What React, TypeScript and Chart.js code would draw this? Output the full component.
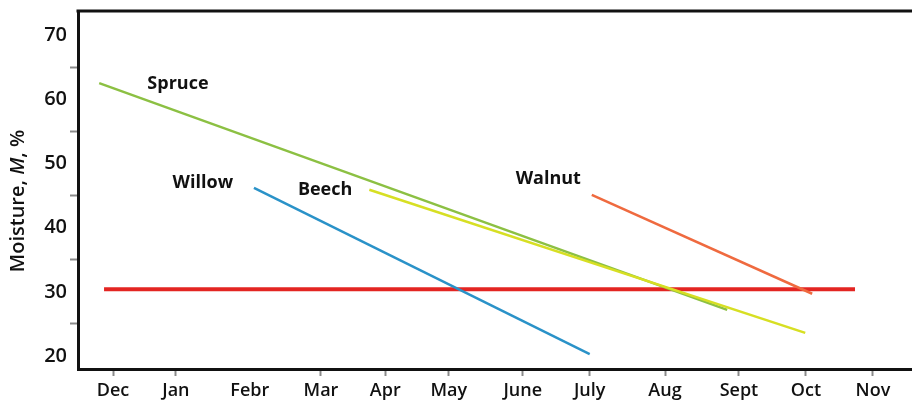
import React, { useEffect, useRef } from "react";
import { Chart, registerables } from "chart.js";

Chart.register(...registerables);

// Month tick labels and their positions (in months from Dec)
const monthLabels = ["Dec", "Jan", "Febr", "Mar", "Apr", "May", "June", "July", "Aug", "Sept", "Oct", "Nov"];
const monthPositions = [0, 0.91, 1.98, 3.01, 3.94, 4.86, 5.93, 6.9, 7.99, 9.06, 10.03, 11.0];
const yTickValues = [20, 25, 30, 35, 40, 45, 50, 55, 60, 65, 70];

// Series (x in months from Dec, y moisture %)
const spruceX = [-0.2, 8.89];
const spruceY = [62.5, 27.2];
const willowX = [2.04, 6.9];
const willowY = [46.2, 20.3];
const beechX = [3.71, 10.02];
const beechY = [45.9, 23.6];
const walnutX = [6.93, 10.12];
const walnutY = [45.1, 29.7];
const limitX = [-0.13, 10.74];
const limitY = [30.4, 30.4];

// Series name annotations (data coordinates)
const labelNames = ["Spruce", "Willow", "Beech", "Walnut"];
const labelX = [0.94, 1.3, 3.07, 6.3];
const labelY = [62.4, 46.9, 45.9, 47.6];

const FONT = "'Open Sans', 'Noto Sans', sans-serif";

const pts = (xs: number[], ys: number[]) => xs.map((x, i) => ({ x, y: ys[i] }));

const decorPlugin = {
  id: "decor",
  afterDraw(chart: any) {
    const { ctx, chartArea, scales } = chart;
    ctx.save();
    // top border
    ctx.strokeStyle = "#111";
    ctx.lineWidth = 3;
    ctx.beginPath();
    ctx.moveTo(chartArea.left - 1.5, chartArea.top);
    ctx.lineTo(chartArea.right, chartArea.top);
    ctx.stroke();

    // series labels
    ctx.fillStyle = "#111";
    ctx.font = `bold 18px ${FONT}`;
    ctx.textAlign = "center";
    ctx.textBaseline = "middle";
    labelNames.forEach((name, i) => {
      ctx.fillText(name, scales.x.getPixelForValue(labelX[i]), scales.y.getPixelForValue(labelY[i]));
    });

    // y-axis title with italic M
    const parts = [
      { t: "Moisture, ", f: `600 20px ${FONT}` },
      { t: "M", f: `italic 600 20px ${FONT}` },
      { t: ", %", f: `600 20px ${FONT}` },
    ];
    let total = 0;
    const widths = parts.map((p) => {
      ctx.font = p.f;
      const w = ctx.measureText(p.t).width;
      total += w;
      return w;
    });
    ctx.translate(18, 201);
    ctx.rotate(-Math.PI / 2);
    ctx.textAlign = "left";
    let cx = -total / 2;
    parts.forEach((p, i) => {
      ctx.font = p.f;
      ctx.fillText(p.t, cx, 0);
      cx += widths[i];
    });
    ctx.restore();
  },
};

export default function App() {
  const ref = useRef<HTMLCanvasElement>(null);

  useEffect(() => {
    if (!ref.current) return;
    Chart.defaults.font.family = FONT;
    const line = (data: any, color: string, width: number, order: number) => ({
      data,
      borderColor: color,
      backgroundColor: color,
      borderWidth: width,
      showLine: true,
      pointRadius: 0,
      fill: false,
      order,
    });
    const chart = new Chart(ref.current, {
      type: "scatter",
      data: {
        datasets: [
          line(pts(limitX, limitY), "#e32522", 4, 5),
          line(pts(spruceX, spruceY), "#8cc043", 2.5, 4),
          line(pts(beechX, beechY), "#d7df23", 2.5, 3),
          line(pts(willowX, willowY), "#2a92c8", 2.5, 2),
          line(pts(walnutX, walnutY), "#ef6a3f", 2.5, 1),
        ] as any,
      },
      options: {
        animation: false,
        responsive: true,
        maintainAspectRatio: false,
        layout: { padding: { top: 11, left: 0, right: 0, bottom: 0 } },
        plugins: { legend: { display: false }, tooltip: { enabled: false } },
        scales: {
          x: {
            type: "linear",
            min: -0.507,
            max: 11.565,
            afterBuildTicks: (scale: any) => {
              scale.ticks = monthPositions.map((v) => ({ value: v }));
            },
            afterFit: (scale: any) => {
              scale.height = 32;
              scale.paddingLeft = 0;
              scale.paddingRight = 0;
            },
            ticks: {
              autoSkip: false,
              maxRotation: 0,
              padding: 4,
              color: "#111",
              font: { size: 18, weight: "600" },
              callback: (_v: any, i: number) => monthLabels[i],
            },
            grid: {
              drawOnChartArea: false,
              drawTicks: true,
              tickLength: 7,
              tickWidth: 2,
              tickColor: (c: any) => (c.index === 2 ? "rgba(0,0,0,0)" : "#8a8a8a"),
            },
            border: { color: "#111", width: 3 },
          },
          y: {
            type: "linear",
            min: 17.98,
            max: 73.74,
            afterBuildTicks: (scale: any) => {
              scale.ticks = yTickValues.map((v) => ({ value: v }));
            },
            afterFit: (scale: any) => {
              scale.width = 78;
              scale.paddingTop = 0;
              scale.paddingBottom = 0;
            },
            ticks: {
              padding: 3,
              color: "#111",
              font: { size: 20, weight: "600" },
              callback: (v: any) => (Number(v) % 10 === 0 ? String(v) : ""),
            },
            grid: {
              drawOnChartArea: false,
              drawTicks: true,
              tickLength: 8,
              tickWidth: 2,
              tickColor: (c: any) =>
                c.tick && c.tick.value % 10 === 0 ? "rgba(0,0,0,0)" : "#8a8a8a",
            },
            border: { color: "#111", width: 3 },
          },
        },
      },
      plugins: [decorPlugin],
    });
    return () => chart.destroy();
  }, []);

  return (
    <div style={{ position: "fixed", left: 0, top: 0, width: 912, height: 401, background: "#fff" }}>
      <canvas ref={ref} />
    </div>
  );
}
